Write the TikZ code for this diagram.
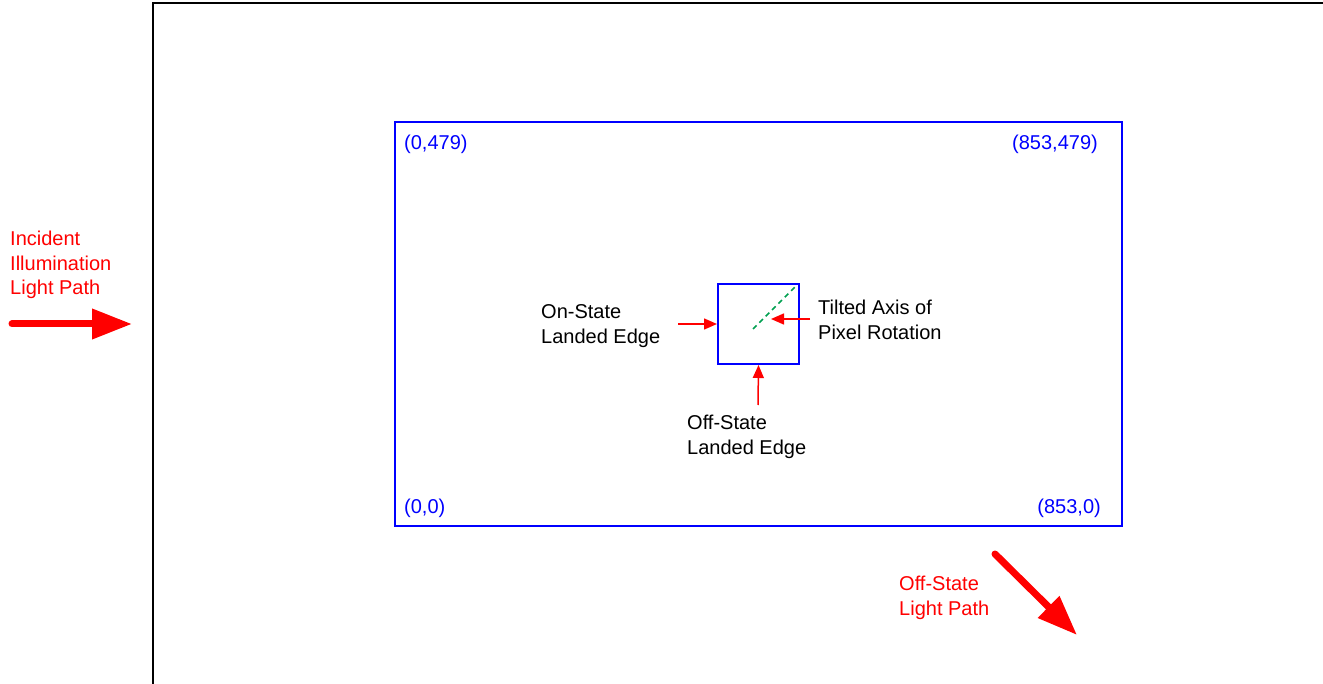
\documentclass[tikz,border=0pt]{standalone}
\usepackage{fontspec}
\setmainfont{Liberation Sans}
\usetikzlibrary{arrows.meta}
\definecolor{dred}{RGB}{255,0,0}
\definecolor{dblue}{RGB}{0,0,255}
\definecolor{dgreen}{RGB}{0,160,80}
\begin{document}
\begin{tikzpicture}[x=1pt,y=-1pt,
  lbl/.style={inner sep=0pt,anchor=west,align=left,font=\fontsize{20pt}{24.5pt}\selectfont},
  redlbl/.style={lbl,text=dred},
  bluelbl/.style={inner sep=0pt,font=\fontsize{20pt}{24pt}\selectfont,text=dblue},
  bigarrow/.style={draw=dred,line width=7pt,line cap=round,-{Triangle[length=40pt,width=29pt]}},
  smallarrow/.style={draw=dred,line width=1.5pt,-{Triangle[length=13pt,width=11pt]}},
]
\useasboundingbox (0,0) rectangle (1323,684);
\clip (0,0) rectangle (1323,684);
% outer frame
\draw[line width=2.5pt] (153,700) -- (153,3) -- (1340,3);
% main rectangle
\node[draw=dblue,line width=2pt,inner sep=0pt,minimum width=727pt,minimum height=404pt] (frame) at (758.5,324) {};
\node[bluelbl,anchor=west] (tl) at (404,144) {(0,479)};
\node[bluelbl,anchor=east] (tr) at (1098,144) {(853,479)};
\node[bluelbl,anchor=west] (bl) at (404,508) {(0,0)};
\node[bluelbl,anchor=east] (br) at (1101,508) {(853,0)};
% pixel
\node[draw=dblue,line width=2pt,inner sep=0pt,minimum width=81pt,minimum height=80pt] (pix) at (758.5,324) {};
\coordinate (axA) at (753,329);
\coordinate (axB) at (797,285);
\draw[dgreen,line width=1.7pt,dash pattern=on 5pt off 4pt] (axA) -- (axB);
% labels
\node[redlbl] (inc) at (10,265) {Incident\\Illumination\\Light Path};
\node[redlbl] (offl) at (899,598) {Off-State\\Light Path};
\node[lbl] (onl) at (541,326) {On-State\\Landed Edge};
\node[lbl] (tilt) at (818,320) {Tilted Axis of\\Pixel Rotation};
\node[lbl] (offe) at (687,437) {Off-State\\Landed Edge};
% big arrows
\coordinate (inA) at (12,324);
\coordinate (inB) at (132,324);
\draw[bigarrow] (inA) -- (inB);
\coordinate (outA) at (995,554);
\coordinate (outB) at (1077,635);
\draw[bigarrow] (outA) -- (outB);
% small arrows
\coordinate (onA) at (678,324);
\draw[smallarrow] (onA) -- (pix.west);
\coordinate (tA) at (810,319);
\coordinate (tB) at (771,319);
\draw[smallarrow] (tA) -- (tB);
\coordinate (oA) at (758,405);
\draw[smallarrow] (oA) -- (pix.south);
\end{tikzpicture}
\end{document}
